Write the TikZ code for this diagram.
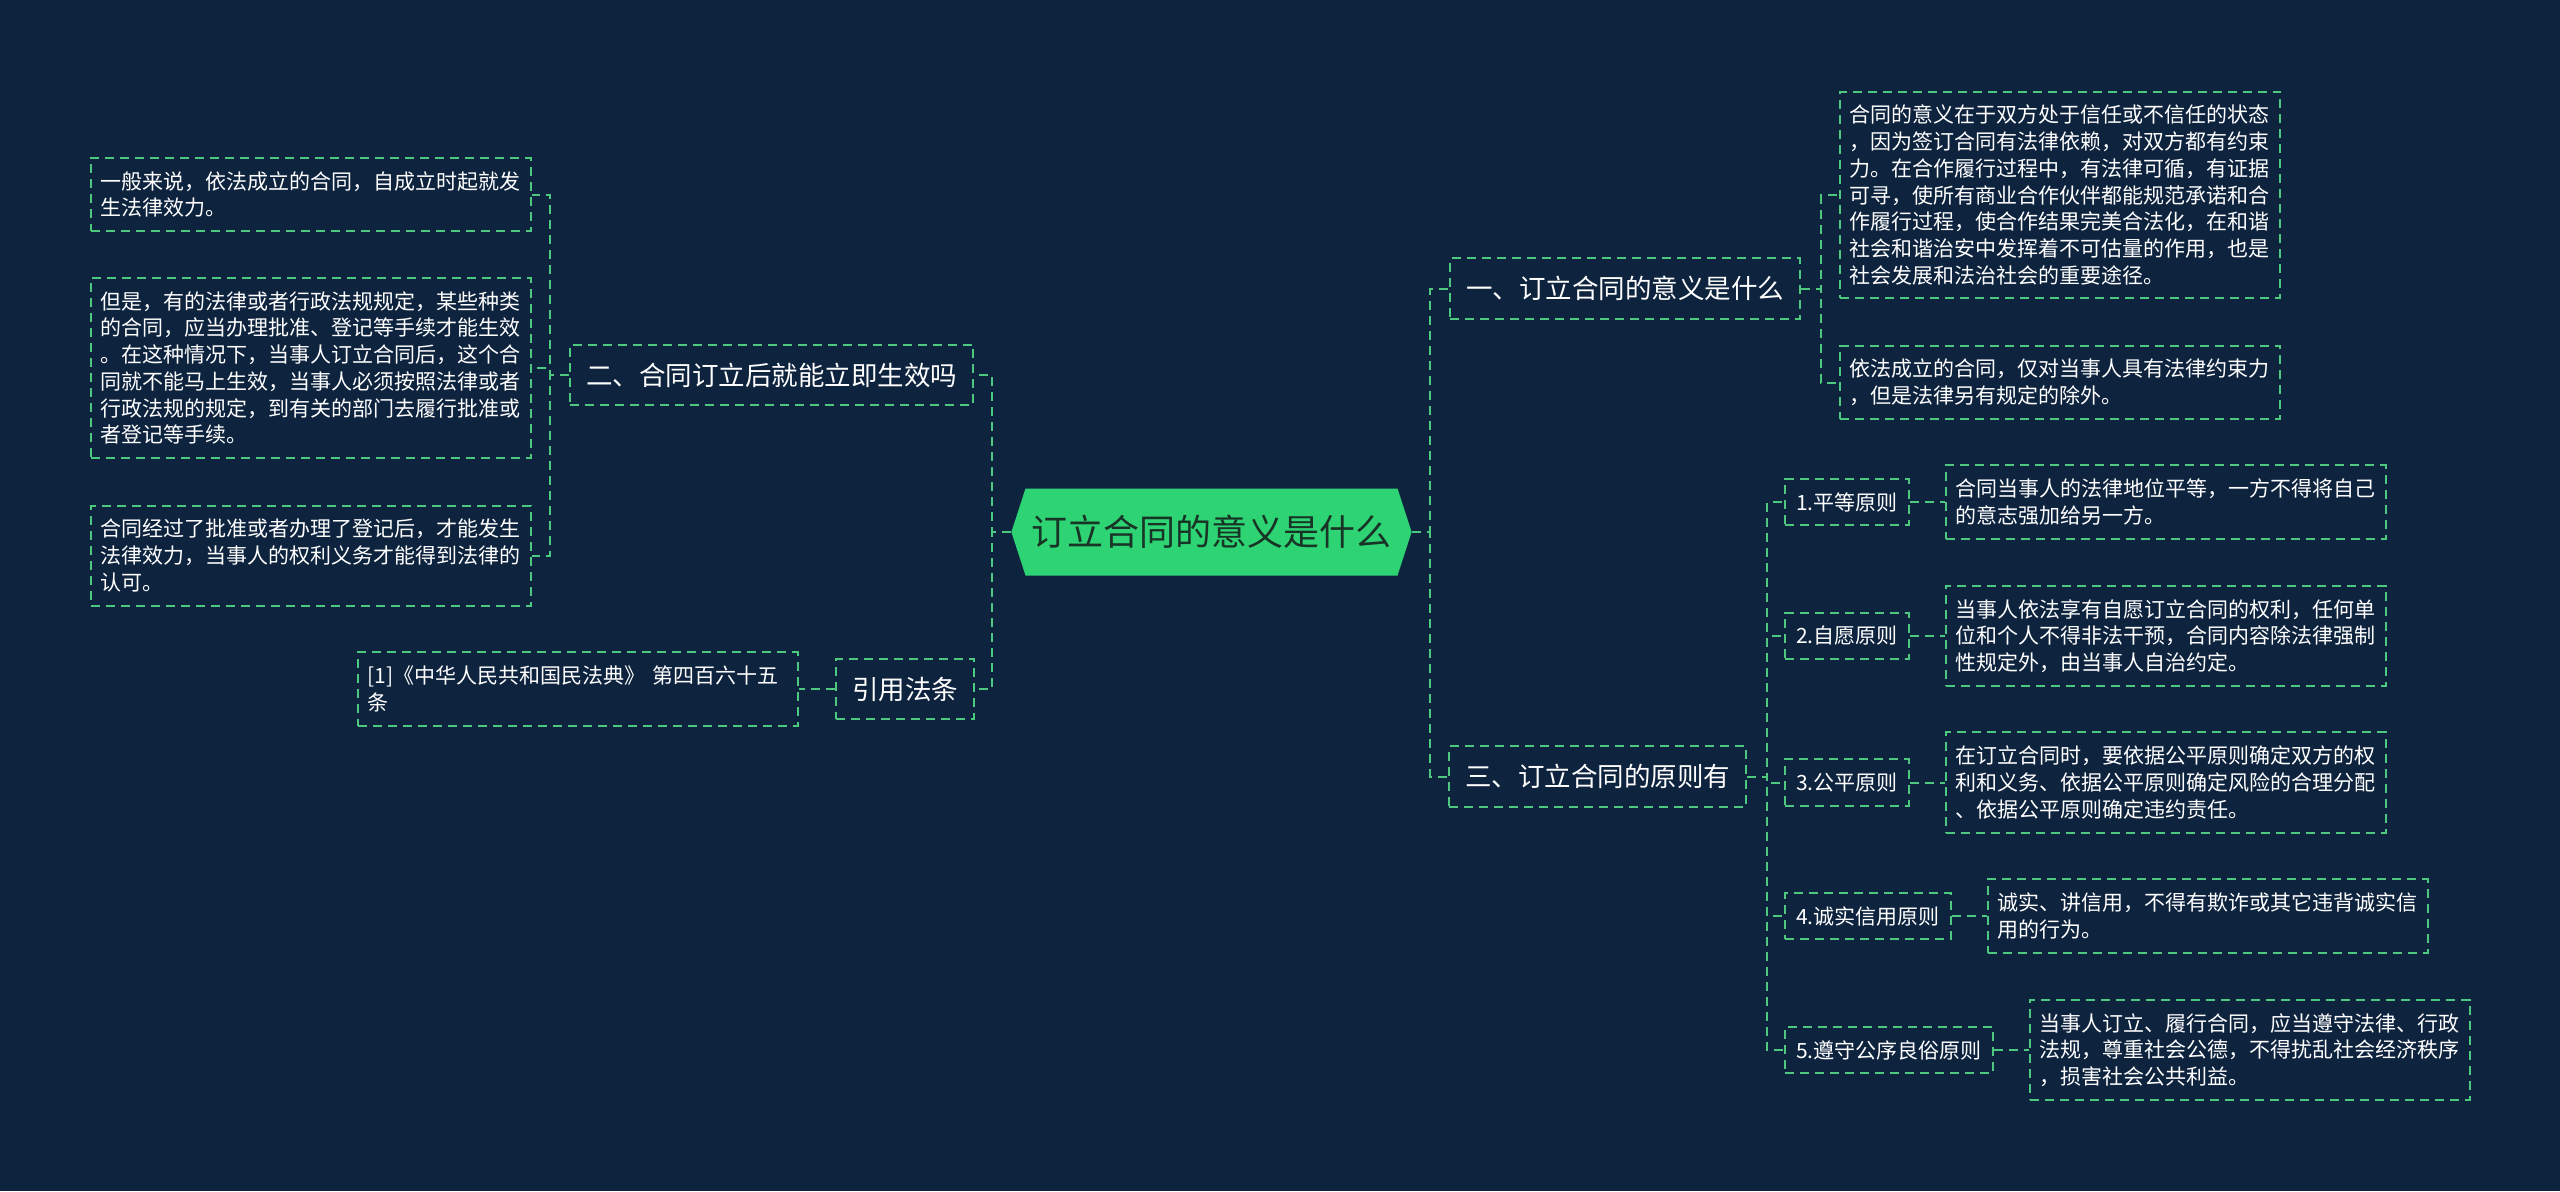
\documentclass[tikz,border=0pt]{standalone}
\usepackage{fontspec}
\newfontfamily\cjkfont{Noto Sans CJK SC}
\definecolor{NightBg}{RGB}{14, 35, 62}
\definecolor{LeafGreen}{RGB}{76, 201, 126}
\definecolor{RootGreen}{RGB}{46, 212, 115}
\definecolor{RootInk}{RGB}{24, 52, 38}
\usepackage{tikz}
\usetikzlibrary{shapes.symbols, positioning}
\begin{document}
\begin{tikzpicture}[x=0.5pt, y=-0.5pt, font=\cjkfont,
  rootnode/.style={signal, signal to=west and east, signal pointer angle=144, fill=RootGreen, text=RootInk, font=\cjkfont\fontsize{18pt}{22pt}\selectfont, inner xsep=3pt, minimum height=43.5pt},
  box/.style={draw=LeafGreen, line width=1pt, dash pattern=on 4.5pt off 3pt, text=white, inner xsep=5.5pt, inner ysep=6.8pt, font=\cjkfont\fontsize{10.5pt}{13.35pt}\selectfont},
  topic/.style={box, inner xsep=8pt, inner ysep=9pt, font=\cjkfont\fontsize{13.25pt}{16pt}\selectfont},
  note/.style={box, inner xsep=4.9pt, text width=210.2pt, align=left}, wire/.style={draw=LeafGreen, line width=1pt, dash pattern=on 4.5pt off 3pt}]
\fill[NightBg] (0,0) rectangle (2560,1191);
\node[rootnode] (root) at (1211.5,532) {订立合同的意义是什么};
\node[topic, anchor=east] (b2) at (974,375) {二、合同订立后就能立即生效吗};
\node[topic, anchor=east] (cite) at (975,689) {引用法条};
\node[topic, anchor=west] (b1) at (1449,288.5) {一、订立合同的意义是什么};
\node[topic, anchor=west] (b3) at (1448,776.5) {三、订立合同的原则有};
\node[note, anchor=east] (l1) at (532,194.5) {一般来说，依法成立的合同，自成立时起就发\\生法律效力。};
\node[note, anchor=east] (l2) at (532,368) {但是，有的法律或者行政法规规定，某些种类\\的合同，应当办理批准、登记等手续才能生效\\。在这种情况下，当事人订立合同后，这个合\\同就不能马上生效，当事人必须按照法律或者\\行政法规的规定，到有关的部门去履行批准或\\者登记等手续。};
\node[note, anchor=east] (l3) at (532,555.5) {合同经过了批准或者办理了登记后，才能发生\\法律效力，当事人的权利义务才能得到法律的\\认可。};
\node[note, left=18pt of cite] (refs) {[1]《中华人民共和国民法典》 第四百六十五\\条};
\node[note, anchor=west] (a1) at (1839,195) {合同的意义在于双方处于信任或不信任的状态\\，因为签订合同有法律依赖，对双方都有约束\\力。在合作履行过程中，有法律可循，有证据\\可寻，使所有商业合作伙伴都能规范承诺和合\\作履行过程，使合作结果完美合法化，在和谐\\社会和谐治安中发挥着不可估量的作用，也是\\社会发展和法治社会的重要途径。};
\node[note, anchor=west] (a2) at (1839,382.5) {依法成立的合同，仅对当事人具有法律约束力\\，但是法律另有规定的除外。};
\node[box, anchor=west] (p1) at (1784,502) {1.平等原则};
\node[box, anchor=west] (p2) at (1784,636) {2.自愿原则};
\node[box, anchor=west] (p3) at (1784,782.5) {3.公平原则};
\node[box, anchor=west] (p4) at (1784,916) {4.诚实信用原则};
\node[box, anchor=west] (p5) at (1784,1050) {5.遵守公序良俗原则};
\node[note, right=17.5pt of p1] (q1) {合同当事人的法律地位平等，一方不得将自己\\的意志强加给另一方。};
\node[note, right=17.5pt of p2] (q2) {当事人依法享有自愿订立合同的权利，任何单\\位和个人不得非法干预，合同内容除法律强制\\性规定外，由当事人自治约定。};
\node[note, right=17.5pt of p3] (q3) {在订立合同时，要依据公平原则确定双方的权\\利和义务、依据公平原则确定风险的合理分配\\、依据公平原则确定违约责任。};
\node[note, right=17.5pt of p4] (q4) {诚实、讲信用，不得有欺诈或其它违背诚实信\\用的行为。};
\node[note, right=17.5pt of p5] (q5) {当事人订立、履行合同，应当遵守法律、行政\\法规，尊重社会公德，不得扰乱社会经济秩序\\，损害社会公共利益。};
\draw[wire] (root.west) -- ++(-19,0) |- (b2.east); \draw[wire] (root.west) -- ++(-19,0) |- (cite.east);
\draw[wire] (root.east) -- ++(18,0) |- (b1.west); \draw[wire] (root.east) -- ++(18,0) |- (b3.west);
\draw[wire] (b2.west) -- ++(-19,0) |- (l1.east); \draw[wire] (b2.west) -- ++(-19,0) |- (l2.east); \draw[wire] (b2.west) -- ++(-19,0) |- (l3.east);
\draw[wire] (cite.west) -- (refs.east);
\draw[wire] (b1.east) -- ++(20,0) |- (a1.west); \draw[wire] (b1.east) -- ++(20,0) |- (a2.west);
\draw[wire] (b3.east) -- ++(20,0) |- (p1.west); \draw[wire] (b3.east) -- ++(20,0) |- (p2.west); \draw[wire] (b3.east) -- ++(20,0) |- (p3.west);
\draw[wire] (b3.east) -- ++(20,0) |- (p4.west); \draw[wire] (b3.east) -- ++(20,0) |- (p5.west);
\draw[wire] (p1) -- (q1); \draw[wire] (p2) -- (q2); \draw[wire] (p3) -- (q3); \draw[wire] (p4) -- (q4); \draw[wire] (p5) -- (q5);
\end{tikzpicture}
\end{document}
